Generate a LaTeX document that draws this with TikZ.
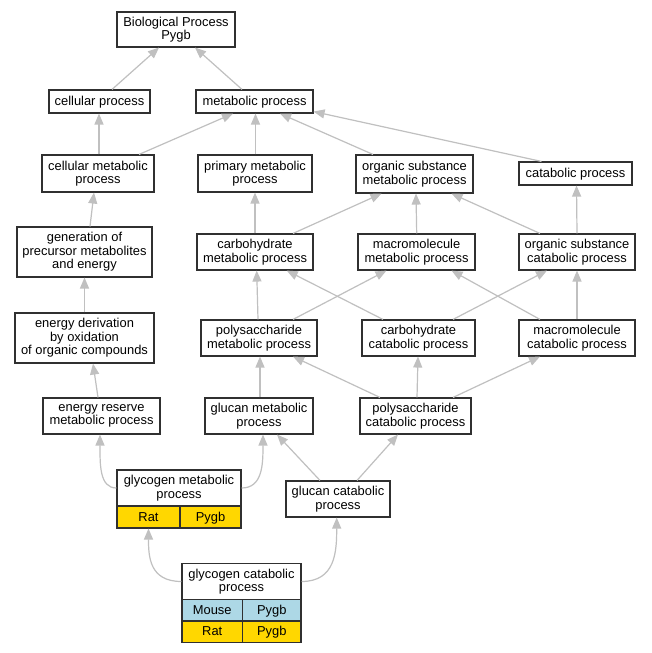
\documentclass[tikz,border=0pt]{standalone}
\usepackage{fontspec}
\setmainfont{Liberation Sans}
\usetikzlibrary{arrows.meta,calc}
\definecolor{edgegray}{HTML}{C0C0C0}
\definecolor{boxline}{HTML}{303030}
\definecolor{gold}{HTML}{FFD700}
\definecolor{lblue}{HTML}{ADD8E6}
\newcommand{\boxstrut}{\rule[-2.4pt]{0pt}{13.2pt}}
\begin{document}
\begin{tikzpicture}[x=1pt,y=-1pt,
  box/.style={draw=boxline, line width=1.1pt, fill=white, align=center, inner sep=0pt,
    font=\fontsize{12.9}{13.4}\selectfont,
    execute at begin node=\boxstrut, execute at end node=\boxstrut},
  goldcell/.style={box, fill=gold},
  bluecell/.style={box, fill=lblue},
  edge/.style={draw=edgegray, line width=1.2pt, -{Triangle[length=11pt,width=9pt,fill=edgegray]}}
]
\useasboundingbox[fill=white] (0,0) rectangle (651,653);

% ---- nodes ----
\node[box, minimum width=118pt, minimum height=35pt] (bp) at (176,29.5) {Biological Process\\Pygb};
\node[box, minimum width=101pt, minimum height=23pt] (cp) at (99.5,101.5) {cellular process};
\node[box, minimum width=117pt, minimum height=23pt] (mp) at (254.5,101.5) {metabolic process};
\node[box, minimum width=112pt, minimum height=37pt] (cm) at (98,173.5) {cellular metabolic\\process};
\node[box, minimum width=114pt, minimum height=37pt] (pm) at (255,173.5) {primary metabolic\\process};
\node[box, minimum width=117pt, minimum height=38pt] (osm) at (414.5,174) {organic substance\\metabolic process};
\node[box, minimum width=113pt, minimum height=23pt] (cat) at (575.5,173.5) {catabolic process};
\node[box, minimum width=135pt, minimum height=50pt] (gen) at (84.5,252) {generation of\\precursor metabolites\\and energy};
\node[box, minimum width=116pt, minimum height=36pt] (cmp) at (255,252) {carbohydrate\\metabolic process};
\node[box, minimum width=117pt, minimum height=36pt] (mmp) at (416.5,252) {macromolecule\\metabolic process};
\node[box, minimum width=116pt, minimum height=36pt] (osc) at (577,252) {organic substance\\catabolic process};
\node[box, minimum width=139pt, minimum height=50pt] (ed) at (84.5,338) {energy derivation\\by oxidation\\of organic compounds};
\node[box, minimum width=116pt, minimum height=36pt] (psm) at (259,338) {polysaccharide\\metabolic process};
\node[box, minimum width=113pt, minimum height=36pt] (cc) at (418.5,338) {carbohydrate\\catabolic process};
\node[box, minimum width=116pt, minimum height=36pt] (mc) at (577,338) {macromolecule\\catabolic process};
\node[box, minimum width=117pt, minimum height=36pt] (er) at (101.5,416) {energy reserve\\metabolic process};
\node[box, minimum width=108pt, minimum height=36pt] (gm) at (259,416) {glucan metabolic\\process};
\node[box, minimum width=111pt, minimum height=36pt] (pc) at (415.5,416) {polysaccharide\\catabolic process};
\node[box, minimum width=104pt, minimum height=36pt] (gc) at (338,499) {glucan catabolic\\process};

% glycogen metabolic process table
\node[box, minimum width=124pt, minimum height=36pt] (gmh) at (179,488) {glycogen metabolic\\process};
\node[goldcell, minimum width=63pt, minimum height=22pt] (gmr) at (148.5,517) {Rat};
\node[goldcell, minimum width=61pt, minimum height=22pt] (gmp) at (210.5,517) {Pygb};

% glycogen catabolic process table
\node[box, minimum width=119pt, minimum height=36pt] (gch) at (241.5,581.5) {glycogen catabolic\\process};
\node[bluecell, minimum width=60.5pt, minimum height=21.5pt] (gcm) at (212.25,610.25) {Mouse};
\node[bluecell, minimum width=58.5pt, minimum height=21.5pt] (gcmp) at (271.75,610.25) {Pygb};
\node[goldcell, minimum width=60.5pt, minimum height=21.5pt] (gcr) at (212.25,631.75) {Rat};
\node[goldcell, minimum width=58.5pt, minimum height=21.5pt] (gcrp) at (271.75,631.75) {Pygb};

% ---- edges ----
\draw[edge] ([xshift=12.5pt]cp.north) -- ([xshift=-17pt]bp.south);
\draw[edge] ([xshift=-12.5pt]mp.north) -- ([xshift=19pt]bp.south);
\draw[edge] ([xshift=1pt]cm.north) -- ([xshift=-0.5pt]cp.south);
\draw[edge] ([xshift=41pt]cm.north) -- ([xshift=-21.5pt]mp.south);
\draw[edge] ([xshift=0.5pt]pm.north) -- ([xshift=1pt]mp.south);
\draw[edge] ([xshift=-41.5pt]osm.north) -- ([xshift=25.5pt]mp.south);
\draw[edge] ([xshift=-34pt]cat.north) -- ([xshift=0pt,yshift=2pt]mp.south east);
\draw[edge] ([xshift=5.5pt]gen.north) -- ([xshift=-4pt]cm.south);
\draw[edge] (cmp.north) -- (pm.south);
\draw[edge] ([xshift=38pt]cmp.north) -- ([xshift=-33pt]osm.south);
\draw[edge] ([xshift=0.2pt]mmp.north) -- ([xshift=1.5pt]osm.south);
\draw[edge] ([xshift=-37pt]osc.north) -- ([xshift=37pt]osm.south);
\draw[edge] (osc.north) -- ([xshift=1pt]cat.south);
\draw[edge] (ed.north) -- (gen.south);
\draw[edge] ([xshift=-1pt]psm.north) -- ([xshift=1.7pt]cmp.south);
\draw[edge] ([xshift=34pt]psm.north) -- ([xshift=-30pt]mmp.south);
\draw[edge] ([xshift=-35.5pt]cc.north) -- ([xshift=31.7pt]cmp.south);
\draw[edge] ([xshift=34.5pt]cc.north) -- ([xshift=-30pt]osc.south);
\draw[edge] ([xshift=-37pt]mc.north) -- ([xshift=35pt]mmp.south);
\draw[edge] (mc.north) -- (osc.south);
\draw[edge] ([xshift=-3.5pt]er.north) -- ([xshift=8.5pt]ed.south);
\draw[edge] ([xshift=1pt]gm.north) -- ([xshift=1pt]psm.south);
\draw[edge] ([xshift=-35.5pt]pc.north) -- ([xshift=34pt]psm.south);
\draw[edge] ([xshift=1.5pt]pc.north) -- ([xshift=-0.5pt]cc.south);
\draw[edge] ([xshift=37.5pt]pc.north) -- ([xshift=-37pt]mc.south);
\draw[edge] (gmh.west) .. controls ([xshift=-17pt]gmh.west) and ([xshift=-1.5pt,yshift=-30pt]er.south) .. ([xshift=-1.5pt]er.south);
\draw[edge] (gmh.east) .. controls ([xshift=21pt]gmh.east) and ([xshift=4pt,yshift=-30pt]gm.south) .. ([xshift=4pt]gm.south);
\draw[edge] ([xshift=-18pt]gc.north) -- ([xshift=18pt]gm.south);
\draw[edge] ([xshift=19pt]gc.north) -- ([xshift=-17.5pt]pc.south);
\draw[edge] (gch.west) .. controls ([xshift=-32pt]gch.west) and ([yshift=-28pt]gmr.south) .. (gmr.south);
\draw[edge] (gch.east) .. controls ([xshift=34pt]gch.east) and ([xshift=-1.3pt,yshift=-34pt]gc.south) .. ([xshift=-1.3pt]gc.south);
\end{tikzpicture}
\end{document}
